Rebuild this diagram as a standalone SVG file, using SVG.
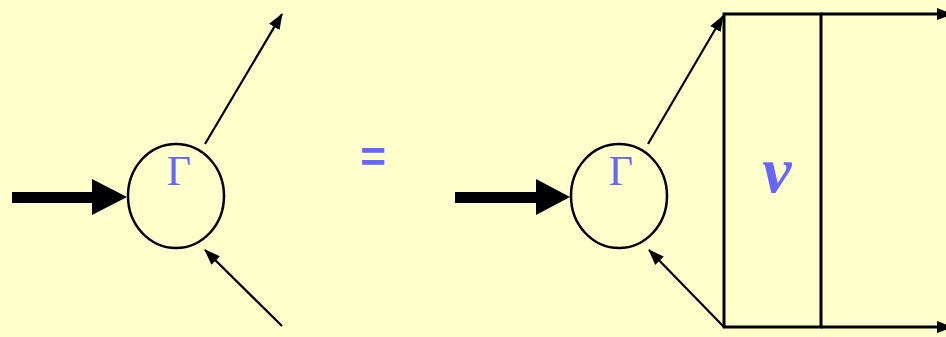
<svg xmlns="http://www.w3.org/2000/svg" width="946" height="337" viewBox="0 0 946 337">
<defs>
<style>
.bg{fill:#FFFFCC}
.node{fill:none;stroke:#000;stroke-width:2.5}
.thin{stroke:#000;stroke-width:2.2;fill:none}
.edge{stroke:#000;stroke-width:3;fill:none}
.lbl{fill:#6666FF;font-family:"Liberation Serif","DejaVu Serif",serif}
</style>
<marker id="ah" viewBox="0 0 16 12" refX="15" refY="6" markerWidth="16" markerHeight="12" markerUnits="userSpaceOnUse" orient="auto">
<path d="M0,0 L16,6 L0,12 Z" fill="#000"/>
</marker>
</defs>
<rect class="bg" x="0" y="0" width="946" height="337"/>
<g id="node-gamma-left">
<ellipse class="node" cx="176" cy="196" rx="48" ry="52"/>
<text class="lbl" x="179" y="185" font-size="42" text-anchor="middle">Γ</text>
</g>
<g id="equals">
<text x="373" y="172" font-family="Liberation Sans, Arial, sans-serif" font-weight="bold" font-size="44" fill="#6666FF" text-anchor="middle">=</text>
</g>
<g id="node-gamma-right">
<ellipse class="node" cx="619" cy="196" rx="48" ry="52"/>
<text class="lbl" x="621" y="185" font-size="42" text-anchor="middle">Γ</text>
</g>
<g id="node-v">
<rect class="edge" x="724" y="14" width="97" height="313"/>
<text class="lbl" x="777" y="192" font-size="66" font-style="italic" font-weight="bold" text-anchor="middle">v</text>
</g>
<g id="connectors">
<path d="M12,192 H92 V179 L127,197 L92,215 V203 H12 Z" fill="#000"/>
<line class="thin" x1="205" y1="144" x2="282" y2="14" marker-end="url(#ah)"/>
<line class="thin" x1="282" y1="326" x2="205" y2="250" marker-end="url(#ah)"/>
<path d="M455,192 H536 V179 L570,197 L536,215 V203 H455 Z" fill="#000"/>
<line class="thin" x1="648" y1="144" x2="723" y2="16" marker-end="url(#ah)"/>
<line class="thin" x1="724" y1="327" x2="649" y2="250" marker-end="url(#ah)"/>
<line class="edge" x1="821" y1="14" x2="952" y2="14" marker-end="url(#ah)"/>
<line class="edge" x1="821" y1="327" x2="952" y2="327" marker-end="url(#ah)"/>
</g>
</svg>
